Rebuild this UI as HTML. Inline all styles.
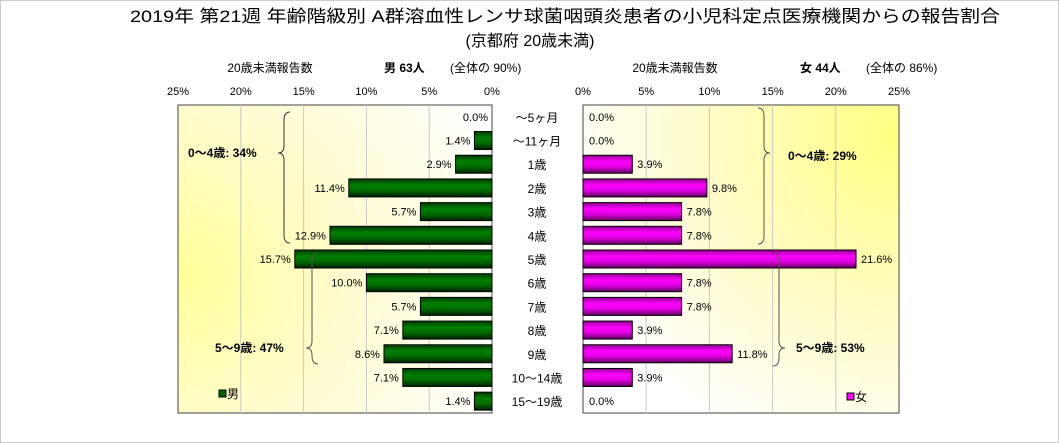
<!DOCTYPE html>
<html><head><meta charset="utf-8"><style>
body{margin:0;background:#fff}
svg{display:block;font-family:"Liberation Sans","Noto Sans CJK JP",sans-serif}
</style></head><body>
<svg id="c" width="1059" height="443" viewBox="0 0 1059 443">
<defs>
<radialGradient id="bgL" cx="0" cy="0.55" r="1.1" fx="0" fy="0.55"><stop offset="0" stop-color="#ffff99"/><stop offset="0.5" stop-color="#fffcd0"/><stop offset="1" stop-color="#ffffff"/></radialGradient>
<radialGradient id="bgR" cx="1" cy="0.1" r="1.1" fx="1" fy="0.1"><stop offset="0" stop-color="#ffff80"/><stop offset="0.55" stop-color="#fffcc8"/><stop offset="1" stop-color="#ffffff"/></radialGradient>
<linearGradient id="gG" x1="0" y1="0" x2="0" y2="1"><stop offset="0" stop-color="#003a00"/><stop offset="0.35" stop-color="#008000"/><stop offset="0.65" stop-color="#006a00"/><stop offset="1" stop-color="#002000"/></linearGradient>
<linearGradient id="gM" x1="0" y1="0" x2="0" y2="1"><stop offset="0" stop-color="#900090"/><stop offset="0.35" stop-color="#ff00ff"/><stop offset="0.65" stop-color="#e000e0"/><stop offset="1" stop-color="#600060"/></linearGradient>
</defs>
<rect x="0.5" y="0.5" width="1058" height="442" fill="#fff" stroke="#ccc"/>
<text x="565" y="22" font-size="17" text-anchor="middle" textLength="870" lengthAdjust="spacingAndGlyphs">2019年 第21週 年齢階級別 A群溶血性レンサ球菌咽頭炎患者の小児科定点医療機関からの報告割合</text>
<text x="530" y="46" font-size="16" text-anchor="middle">(京都府 20歳未満)</text>
<text x="270" y="72" font-size="12" text-anchor="middle">20歳未満報告数</text>
<text x="384" y="72" font-size="12" font-weight="bold">男 63人</text>
<text x="450" y="72" font-size="12">(全体の 90%)</text>
<text x="675" y="72" font-size="12" text-anchor="middle">20歳未満報告数</text>
<text x="800" y="72" font-size="12" font-weight="bold">女 44人</text>
<text x="866" y="72" font-size="12">(全体の 86%)</text>
<rect x="178" y="105" width="314" height="308" fill="url(#bgL)" stroke="#444"/>
<rect x="583" y="105" width="316" height="308" fill="url(#bgR)" stroke="#444"/>
<g id="grid"></g><g id="bars"></g><g id="labels"></g>
<path d="M290,112 q-6,0 -6,8 v26 q0,7 -6,7 q6,0 6,7 v75 q0,8 6,8" fill="none" stroke="#333"/>
<text x="188" y="157" font-size="12" font-weight="bold">0～4歳: 34%</text>
<path d="M318,253 q-6,0 -6,8 v80 q0,7 -6,7 q6,0 6,7 v1 q0,8 6,8" fill="none" stroke="#555"/>
<text x="215" y="352" font-size="12" font-weight="bold">5～9歳: 47%</text>
<path d="M758,108 q6,0 6,8 v30 q0,7 6,7 q-6,0 -6,7 v76 q0,8 -6,8" fill="none" stroke="#555"/>
<text x="788" y="160" font-size="12" font-weight="bold">0～4歳: 29%</text>
<path d="M773,253 q6,0 6,8 v80 q0,7 6,7 q-6,0 -6,7 v3 q0,8 -6,8" fill="none" stroke="#555"/>
<text x="796" y="352" font-size="12" font-weight="bold">5～9歳: 53%</text>
<rect x="219" y="390" width="7" height="7" fill="#006400" stroke="#000"/>
<text x="227" y="398" font-size="12">男</text>
<rect x="847" y="393" width="7" height="7" fill="#ff00ff" stroke="#000"/>
<text x="855" y="401" font-size="12">女</text>
</svg>
<script>
const categories=["～5ヶ月","～11ヶ月","1歳","2歳","3歳","4歳","5歳","6歳","7歳","8歳","9歳","10～14歳","15～19歳"];
const maleValues=[0.0,1.4,2.9,11.4,5.7,12.9,15.7,10.0,5.7,7.1,8.6,7.1,1.4];
const femaleValues=[0.0,0.0,3.9,9.8,7.8,7.8,21.6,7.8,7.8,3.9,11.8,3.9,0.0];
const ticks=[0,5,10,15,20,25];
const NS="http://www.w3.org/2000/svg";
const top0=105,bottom0=413,rowH=(bottom0-top0)/categories.length;
const xL=v=>492-v*(314/25);
const xR=v=>583+v*(316/25);
const yC=i=>top0+rowH*(i+0.5);
function mk(t,a,p){const e=document.createElementNS(NS,t);for(const k in a)e.setAttribute(k,a[k]);p.appendChild(e);return e;}
const grid=document.getElementById('grid'),bars=document.getElementById('bars'),labels=document.getElementById('labels');
ticks.forEach(t=>{
  if(t>0&&t<25){
    const g1=mk('line',{x1:xL(t),x2:xL(t),y1:top0,y2:bottom0,stroke:'#c8c8c8'},grid);
    
    
    const g2=mk('line',{x1:xR(t),x2:xR(t),y1:top0,y2:bottom0,stroke:'#c8c8c8'},grid);
    
    
  }
  const a=mk('text',{x:xL(t),y:95,'font-size':11,'text-anchor':'middle'},labels);a.textContent=t+'%';
  
  
  const b=mk('text',{x:xR(t),y:95,'font-size':11,'text-anchor':'middle'},labels);b.textContent=t+'%';
  
  
});
categories.forEach((c,i)=>{
  const y=yC(i),h=18;
  const m=maleValues[i],f=femaleValues[i];
  if(m>0){const r=mk('rect',{x:xL(m),y:y-h/2,width:492-xL(m),height:h,fill:'url(#gG)',stroke:'#000'},bars);
    
    }
  if(f>0){const r=mk('rect',{x:583,y:y-h/2,width:xR(f)-583,height:h,fill:'url(#gM)',stroke:'#000'},bars);
    
    }
  const lm=mk('text',{x:xL(m)-4,y:y+4,'font-size':11,'text-anchor':'end'},labels);lm.textContent=m.toFixed(1)+'%';
  
  
  const lf=mk('text',{x:xR(f)+(f>0?5:6),y:y+4,'font-size':11},labels);lf.textContent=f.toFixed(1)+'%';
  
  
  const lc=mk('text',{x:537,y:y+5,'font-size':12,'text-anchor':'middle'},labels);lc.textContent=c;
  
  
});
</script>
</body></html>
